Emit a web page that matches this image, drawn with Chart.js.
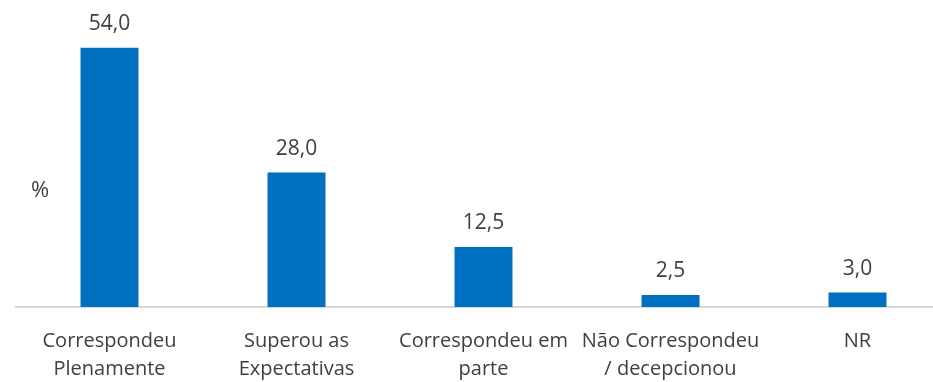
<!DOCTYPE html>
<html>
<head>
<meta charset="utf-8">
<script src="https://cdn.jsdelivr.net/npm/chart.js@4/dist/chart.umd.min.js"></script>
<style>
  html, body { margin: 0; padding: 0; background: #fff; overflow: hidden; }
  #wrap { width: 952px; height: 382px; }
</style>
</head>
<body>
<div id="wrap"><canvas id="c" width="952" height="382"></canvas></div>
<script>
// Survey answers: how the experience compared with expectations
const categories = [
  ['Correspondeu', 'Plenamente'],
  ['Superou as', 'Expectativas'],
  ['Correspondeu em', 'parte'],
  ['Não Correspondeu', '/ decepcionou'],
  ['NR']
];
const percentages = [54.0, 28.0, 12.5, 2.5, 3.0];
const unitLabel = '%';

const FONT = "'Open Sans', 'Noto Sans', sans-serif";
const TEXT_COLOR = '#404040';

const fmt = v => v.toFixed(1).replace('.', ',');

// Value labels above each bar plus the unit marker on the left
const annotate = {
  id: 'annotate',
  afterDatasetsDraw(chart) {
    const ctx = chart.ctx;
    const meta = chart.getDatasetMeta(0);
    ctx.save();
    ctx.fillStyle = TEXT_COLOR;
    ctx.font = "21px " + FONT;
    ctx.textAlign = 'center';
    ctx.textBaseline = 'middle';
    meta.data.forEach((bar, i) => {
      ctx.fillText(fmt(percentages[i]), bar.x, bar.y - 24);
    });
    const a = chart.chartArea;
    ctx.font = "22px " + FONT;
    ctx.fillText(unitLabel, a.left + 24, a.top + (a.bottom - a.top) * 0.597);
    ctx.restore();
  }
};

new Chart(document.getElementById('c'), {
  type: 'bar',
  data: {
    labels: categories,
    datasets: [{
      data: percentages,
      backgroundColor: '#0070C0',
      borderWidth: 0,
      barPercentage: 0.31,
      categoryPercentage: 1.0
    }]
  },
  options: {
    responsive: false,
    animation: false,
    devicePixelRatio: 1,
    layout: { padding: { left: 16, right: 1, top: 19, bottom: 0 } },
    plugins: { legend: { display: false }, tooltip: { enabled: false } },
    scales: {
      x: {
        grid: { display: false, drawTicks: false },
        border: { display: true, color: '#d9d9d9', width: 2 },
        ticks: {
          color: TEXT_COLOR,
          font: { family: FONT, size: 20, lineHeight: 1.4 },
          padding: 20,
          maxRotation: 0,
          autoSkip: false
        },
        afterFit(scale) { scale.height = 75; }
      },
      y: {
        display: false,
        min: 0,
        max: 60
      }
    }
  },
  plugins: [annotate]
});
</script>
</body>
</html>
